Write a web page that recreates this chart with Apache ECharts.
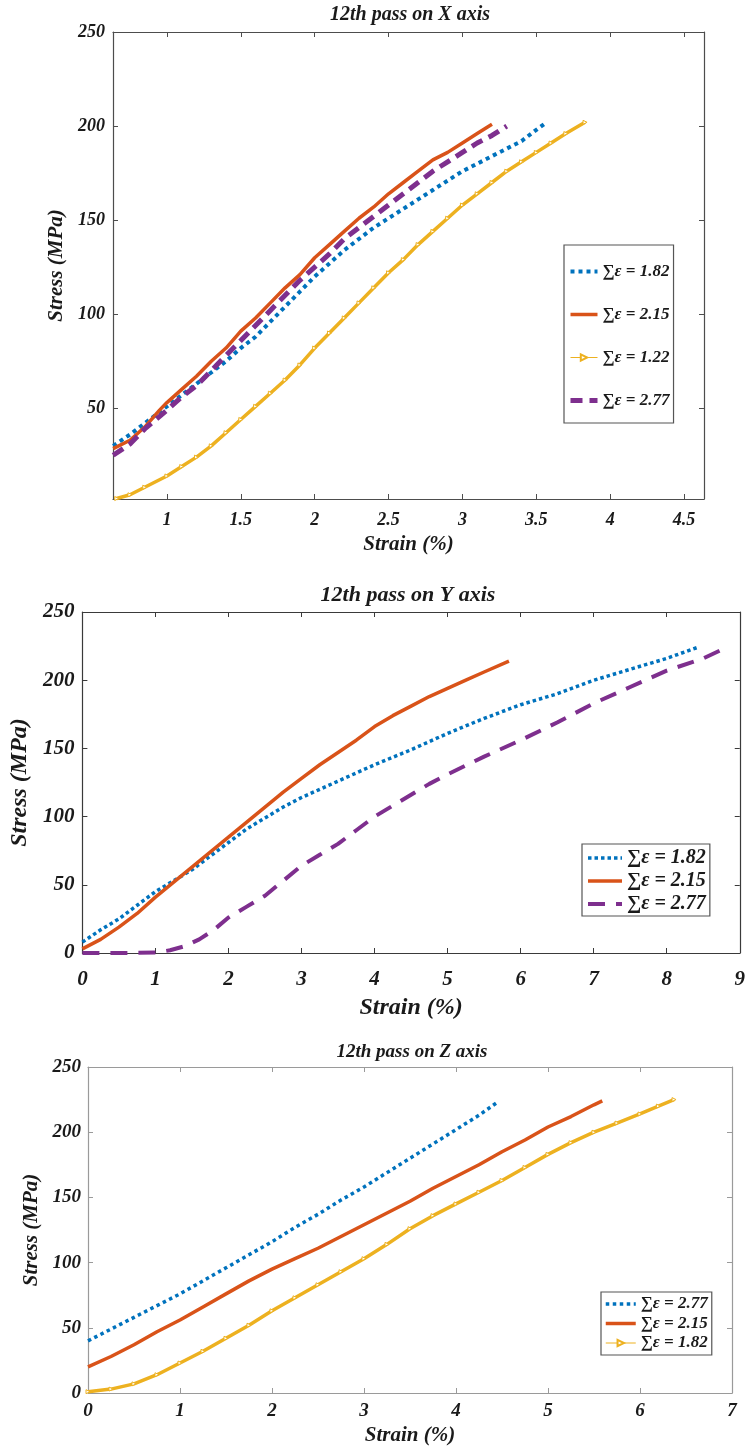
<!DOCTYPE html>
<html>
<head>
<meta charset="utf-8">
<script src="https://cdn.jsdelivr.net/npm/echarts@6/dist/echarts.min.js"></script>
<style>
  html, body { margin: 0; padding: 0; background: #fff; }
  #chart { width: 748px; height: 1448px; }
</style>
</head>
<body>
<div id="chart"></div>
<script>
// ---- 12th pass on X axis: [strain %, stress MPa] ----
const xPassE182 = [[0.636,30],[0.75,36],[0.85,42],[1.0,51],[1.1,57],[1.2,63],[1.3,69],[1.4,75],[1.5,82],[1.6,88],[1.7,96],[1.8,104],[1.9,112],[2.0,120],[2.1,127],[2.2,134],[2.3,140],[2.4,146],[2.5,151],[2.6,156],[2.7,161],[2.8,166],[2.9,171],[3.0,176],[3.1,180],[3.2,184],[3.3,188],[3.4,192],[3.5,198],[3.57,202]];
const xPassE215 = [[0.636,28.5],[0.75,33],[0.85,40],[0.95,49],[1.0,53],[1.1,60],[1.2,67],[1.3,75],[1.4,82],[1.5,91],[1.6,98],[1.7,106],[1.8,114],[1.9,121],[2.0,130],[2.1,137],[2.2,144],[2.3,151],[2.4,157],[2.5,164],[2.6,170],[2.7,176],[2.8,182],[2.9,186],[3.0,191],[3.1,196],[3.2,201]];
const xPassE122 = [[0.66,2],[0.75,4],[0.85,8],[1.0,14],[1.1,19],[1.2,24],[1.3,30],[1.4,37],[1.5,44],[1.6,51],[1.7,58],[1.8,65],[1.9,73],[2.0,82],[2.1,90],[2.2,98],[2.3,106],[2.4,114],[2.5,122],[2.6,129],[2.7,137],[2.8,144],[2.9,151],[3.0,158],[3.1,164],[3.2,170],[3.3,176],[3.4,181],[3.5,186],[3.6,191],[3.7,196],[3.83,202]];
const xPassE277 = [[0.636,25],[0.75,31],[0.85,39],[1.0,49],[1.1,56],[1.2,62],[1.3,70],[1.4,78],[1.5,86],[1.6,94],[1.7,102],[1.8,110],[1.9,118],[2.0,125],[2.1,132],[2.2,140],[2.3,146],[2.4,152],[2.5,158],[2.6,164],[2.7,170],[2.8,176],[2.9,181],[3.0,186],[3.1,191],[3.2,195],[3.3,200]];

// ---- 12th pass on Y axis ----
const yPassE182 = [[0,8],[0.25,17],[0.5,25],[0.75,35],[1,45],[1.25,53],[1.5,61],[1.75,71],[2,81],[2.25,91],[2.5,99],[2.75,107],[3,114],[3.25,120],[3.5,126],[3.75,132],[4,138],[4.5,149],[5,161],[5.5,172],[6,182],[6.5,190],[7,200],[7.5,208],[8,216],[8.42,224]];
const yPassE215 = [[0,3],[0.25,10],[0.5,19],[0.75,29],[1,41],[1.25,52],[1.5,63],[1.75,74],[2,85],[2.25,96],[2.5,107],[2.75,118],[3,128],[3.25,138],[3.5,147],[3.75,156],[4,166],[4.25,174],[4.5,181],[4.75,188],[5,194],[5.25,200],[5.5,206],[5.84,214]];
const yPassE277 = [[0,0],[0.5,0],[1.0,0.3],[1.2,2],[1.4,5],[1.6,10],[1.8,17],[2,26],[2.25,34],[2.5,42],[2.75,53],[3,64],[3.25,72],[3.5,80],[3.75,90],[4,100],[4.25,108],[4.5,116],[4.75,124],[5,131],[5.5,144],[6,156],[6.5,169],[7,183],[7.5,195],[8,207],[8.5,216],[8.82,224]];

// ---- 12th pass on Z axis ----
const zPassE277 = [[0,40],[0.25,49],[0.5,58],[0.75,67],[1,76],[1.25,86],[1.5,96],[1.75,106],[2,116],[2.25,127],[2.5,137],[2.75,148],[2.9,154],[3,158],[3.25,169],[3.5,180],[3.75,191],[4,202],[4.25,213],[4.45,223]];
const zPassE215 = [[0,20],[0.25,28],[0.5,37],[0.75,47],[1,56],[1.25,66],[1.5,76],[1.75,86],[2,95],[2.25,103],[2.5,111],[2.75,120],[3,129],[3.25,138],[3.5,147],[3.75,157],[4,166],[4.25,175],[4.5,185],[4.75,194],[5,204],[5.25,212],[5.5,221],[5.59,224]];
const zPassE182 = [[0,1],[0.25,3],[0.5,7],[0.75,14],[1,23],[1.25,32],[1.5,42],[1.75,52],[2,63],[2.25,73],[2.5,83],[2.75,93],[3,103],[3.25,114],[3.5,126],[3.75,136],[4,145],[4.25,154],[4.5,163],[4.75,173],[5,183],[5.25,192],[5.5,200],[5.75,207],[6,214],[6.2,220],[6.37,225]];

// ---- tick values ----
const xPassStrainTicks = [1, 1.5, 2, 2.5, 3, 3.5, 4, 4.5];
const xPassStressTicks = [50, 100, 150, 200, 250];
const yPassStrainTicks = [0, 1, 2, 3, 4, 5, 6, 7, 8, 9];
const zPassStrainTicks = [0, 1, 2, 3, 4, 5, 6, 7];
const stressTicks = [0, 50, 100, 150, 200, 250];

// ---- legend labels ----
const LBL_182 = '∑ε = 1.82';
const LBL_215 = '∑ε = 2.15';
const LBL_122 = '∑ε = 1.22';
const LBL_277 = '∑ε = 2.77';

const BLUE = '#0072BD', ORANGE = '#D95319', YELLOW = '#EDB120', PURPLE = '#7E2F8E';
const SERIF = '"Liberation Serif", "Times New Roman", serif';
const INK = '#1a1a1a';
const RIGHT_TRIANGLE = 'path://M0,0L10,5L0,10Z';

function labelStyle(size) {
  return { fontFamily: SERIF, fontStyle: 'italic', fontWeight: 'bold', fontSize: size, color: INK };
}

// Four axes per panel: labelled bottom/left, tick-only top/right (boxed look)
function panelAxes(gi, cfg) {
  const line = { show: true, onZero: false, lineStyle: { color: cfg.axisColor, width: 1.2 } };
  const tick = (vals) => ({ show: true, inside: true, length: 5, customValues: vals, lineStyle: { color: cfg.axisColor, width: 1 } });
  const xs = [
    {
      type: 'value', gridIndex: gi, position: 'bottom', min: cfg.xMin, max: cfg.xMax,
      axisLine: line, axisTick: tick(cfg.xTicks), splitLine: { show: false },
      axisLabel: Object.assign({ customValues: cfg.xTicks, margin: cfg.xLabelMargin }, labelStyle(cfg.tickSize)),
      name: 'Strain (%)', nameLocation: 'middle', nameGap: cfg.xNameGap,
      nameTextStyle: labelStyle(cfg.nameSize)
    },
    {
      type: 'value', gridIndex: gi, position: 'top', min: cfg.xMin, max: cfg.xMax,
      axisLine: line, axisTick: tick(cfg.xTicks), splitLine: { show: false },
      axisLabel: { show: false }
    }
  ];
  const ys = [
    {
      type: 'value', gridIndex: gi, position: 'left', min: cfg.yMin, max: cfg.yMax,
      axisLine: line, axisTick: tick(cfg.yTicks), splitLine: { show: false },
      axisLabel: Object.assign({ customValues: cfg.yTicks, margin: cfg.yLabelMargin }, labelStyle(cfg.tickSize)),
      name: 'Stress (MPa)', nameLocation: 'middle', nameGap: cfg.yNameGap, nameRotate: 90,
      nameTextStyle: labelStyle(cfg.nameSize)
    },
    {
      type: 'value', gridIndex: gi, position: 'right', min: cfg.yMin, max: cfg.yMax,
      axisLine: line, axisTick: tick(cfg.yTicks), splitLine: { show: false },
      axisLabel: { show: false }
    }
  ];
  return { xs, ys };
}

function curve(panel, label, data, color, width, dash, extra) {
  const idx = panel === 'X' ? 0 : panel === 'Y' ? 2 : 4;
  return Object.assign({
    type: 'line', name: panel + '|' + label,
    xAxisIndex: idx, yAxisIndex: idx,
    data: data, symbol: 'none', showSymbol: false, smooth: false, clip: true,
    itemStyle: { color: color },
    lineStyle: { color: color, width: width, type: dash || 'solid' },
    emphasis: { disabled: true }
  }, extra || {});
}

// small hollow right-pointing triangles along the yellow trace
function triangleMarks(size) {
  return {
    symbol: RIGHT_TRIANGLE, symbolSize: size, showSymbol: true,
    itemStyle: { color: '#fff', borderColor: YELLOW, borderWidth: 1 }
  };
}

const panels = [
  { grid: { left: 113, top: 32, width: 591, height: 467 },
    xMin: 0.635, xMax: 4.635, yMin: 1.75, yMax: 250,
    xTicks: xPassStrainTicks, yTicks: xPassStressTicks,
    axisColor: '#4d4d4d', tickSize: 18, nameSize: 21,
    xLabelMargin: 12, yLabelMargin: 8, xNameGap: 35, yNameGap: 40 },
  { grid: { left: 80, top: 612, width: 661, height: 341 },
    xMin: 0, xMax: 9, yMin: 0, yMax: 250,
    xTicks: yPassStrainTicks, yTicks: stressTicks,
    axisColor: '#3a3a3a', tickSize: 21, nameSize: 24,
    xLabelMargin: 16, yLabelMargin: 8, xNameGap: 43, yNameGap: 45 },
  { grid: { left: 88, top: 1067, width: 644, height: 326 },
    xMin: 0, xMax: 7, yMin: 0, yMax: 250,
    xTicks: zPassStrainTicks, yTicks: stressTicks,
    axisColor: '#9a9a9a', tickSize: 19, nameSize: 21,
    xLabelMargin: 9, yLabelMargin: 7, xNameGap: 32, yNameGap: 37 }
];

const xAxis = [], yAxis = [], grid = [];
panels.forEach((p, i) => {
  grid.push(Object.assign({ containLabel: false, show: false }, p.grid));
  const a = panelAxes(i, p);
  xAxis.push(...a.xs);
  yAxis.push(...a.ys);
});

const series = [
  curve('X', LBL_182, xPassE182, BLUE, 4, [4, 4]),
  curve('X', LBL_215, xPassE215, ORANGE, 3.5),
  curve('X', LBL_122, xPassE122, YELLOW, 3.5, null, triangleMarks(4)),
  curve('X', LBL_277, xPassE277, PURPLE, 5, [12, 7]),

  curve('Y', LBL_182, yPassE182, BLUE, 3.5, [3.5, 3]),
  curve('Y', LBL_215, yPassE215, ORANGE, 3.5),
  curve('Y', LBL_277, yPassE277, PURPLE, 4, [17, 11]),

  curve('Z', LBL_277, zPassE277, BLUE, 3.5, [3.5, 3.5]),
  curve('Z', LBL_215, zPassE215, ORANGE, 3.5),
  curve('Z', LBL_182, zPassE182, YELLOW, 3.5, null, triangleMarks(4))
];

// Legend keys: line samples only, except the yellow trace which keeps a thin line + triangle
function legendBox(panel, labels, pos, fontSize, gap, itemWidth, padding, markerLabel) {
  return Object.assign({
    orient: 'vertical', selectedMode: false,
    data: labels.map(l => {
      const d = { name: panel + '|' + l };
      if (markerLabel === l) {
        d.lineStyle = { width: 1 };
      } else {
        d.itemStyle = { opacity: 0 };
      }
      return d;
    }),
    formatter: (n) => n.split('|')[1],
    itemWidth: itemWidth, itemHeight: 8, itemGap: gap, padding: padding,
    lineStyle: { width: 'inherit', type: 'inherit' },
    borderColor: '#555', borderWidth: 1.2, backgroundColor: '#fff',
    textStyle: Object.assign({ lineHeight: fontSize }, labelStyle(fontSize))
  }, pos);
}

const legend = [
  legendBox('X', [LBL_182, LBL_215, LBL_122, LBL_277], { left: 564, top: 245 }, 17, 26, 27, [18, 4, 14, 4], LBL_122),
  legendBox('Y', [LBL_182, LBL_215, LBL_277], { left: 582, top: 844 }, 20, 3, 34, [4, 4, 2, 4]),
  legendBox('Z', [LBL_277, LBL_215, LBL_182], { left: 601, top: 1292 }, 17, 2.5, 30, [3.5, 4, 3.5, 3], LBL_182)
];

function title(text, cx, cy, size) {
  return {
    type: 'text', x: cx, y: cy,
    style: { text: text, fill: INK, align: 'center', verticalAlign: 'middle',
             font: 'italic bold ' + size + 'px ' + SERIF }
  };
}

const chart = echarts.init(document.getElementById('chart'), null, { renderer: 'canvas' });
chart.setOption({
  animation: false,
  backgroundColor: '#fff',
  grid: grid,
  xAxis: xAxis,
  yAxis: yAxis,
  legend: legend,
  series: series,
  graphic: [
    title('12th pass on X axis', 410, 15, 20),
    title('12th pass on Y axis', 408, 595, 22),
    title('12th pass on Z axis', 412, 1052, 19)
  ]
});
</script>
</body>
</html>
